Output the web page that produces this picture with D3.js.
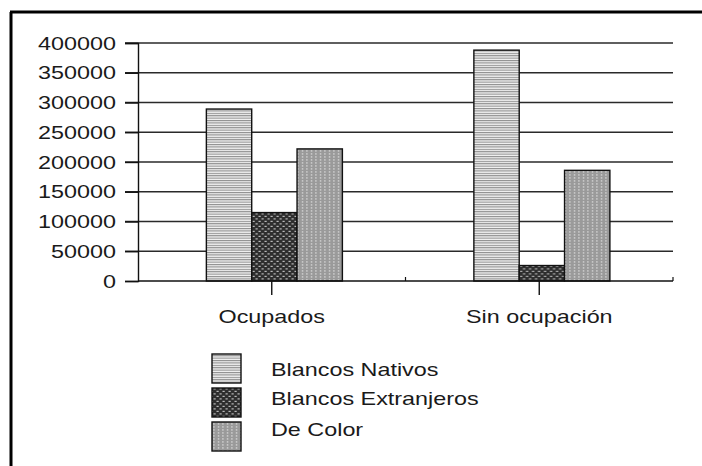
<!DOCTYPE html>
<html>
<head>
<meta charset="utf-8">
<script src="https://cdn.jsdelivr.net/npm/d3@7"></script>
<style>
  body { margin: 0; background: #fff; }
  text { font-family: "Liberation Sans", Arial, sans-serif; fill: #1a1a1a; }
</style>
</head>
<body>
<svg id="chart" width="702" height="466"></svg>
<script>
// données
var categories = ["Ocupados", "Sin ocupación"];
var series = ["Blancos Nativos", "Blancos Extranjeros", "De Color"];
var nativos = [289000, 388000];
var extranjeros = [115000, 26000];
var deColor = [222000, 186000];
var yTicks = [0, 50000, 100000, 150000, 200000, 250000, 300000, 350000, 400000];

var valeurs = [nativos, extranjeros, deColor];
var motifs = ["pat-nativos", "pat-extranjeros", "pat-color"];

var svg = d3.select("#chart");
var fontSize = 19, sx = 1.23; // texte étiré horizontalement comme sur l'original

// motifs de remplissage
var defs = svg.append("defs");
var p1 = defs.append("pattern").attr("id", "pat-nativos").attr("patternUnits", "userSpaceOnUse")
  .attr("width", 4).attr("height", 2.4);
p1.append("rect").attr("width", 4).attr("height", 2.4).attr("fill", "#f4f4f4");
p1.append("rect").attr("width", 4).attr("height", 1.1).attr("fill", "#8c8c8c");

var p2 = defs.append("pattern").attr("id", "pat-extranjeros").attr("patternUnits", "userSpaceOnUse")
  .attr("width", 6).attr("height", 5);
p2.append("rect").attr("width", 6).attr("height", 5).attr("fill", "#2e2e2e");
p2.append("rect").attr("x", 0.5).attr("y", 0.8).attr("width", 2.2).attr("height", 1.2).attr("fill", "#b8b8b8");
p2.append("rect").attr("x", 3.5).attr("y", 3.3).attr("width", 2.2).attr("height", 1.2).attr("fill", "#b8b8b8");

var p3 = defs.append("pattern").attr("id", "pat-color").attr("patternUnits", "userSpaceOnUse")
  .attr("width", 4.5).attr("height", 3);
p3.append("rect").attr("width", 4.5).attr("height", 3).attr("fill", "#9a9a9a");
p3.append("rect").attr("x", 2).attr("y", 0).attr("width", 1).attr("height", 1.8).attr("fill", "#dedede");

// cadre (haut et gauche)
svg.append("path").attr("d", "M10,12H702M11,12V466")
  .attr("stroke", "#000").attr("stroke-width", 3).attr("fill", "none");

// échelles
var y = d3.scaleLinear().domain([0, 400000]).range([281, 43]);
var x0 = d3.scaleBand().domain(categories).range([138, 673]).padding(0);
var x1 = d3.scaleBand().domain(series).range([0, x0.bandwidth()])
  .paddingInner(0).paddingOuter(1.45).align(0.52);

function texte(g, x, yy, str, anchor) {
  return g.append("text")
    .attr("transform", "translate(" + x + "," + yy + ") scale(" + sx + ",1)")
    .attr("text-anchor", anchor || "start")
    .style("font-size", fontSize + "px")
    .text(str);
}

// grille horizontale
svg.append("g").selectAll("line").data(yTicks.slice(1)).enter().append("line")
  .attr("x1", 125).attr("x2", 673)
  .attr("y1", function(d) { return y(d); }).attr("y2", function(d) { return y(d); })
  .attr("stroke", "#2a2a2a").attr("stroke-width", 1.4);

// barres
var groupes = svg.append("g").selectAll("g").data(categories).enter().append("g")
  .attr("transform", function(d) { return "translate(" + x0(d) + ",0)"; });
groupes.selectAll("rect")
  .data(function(c, i) { return series.map(function(s, j) { return { s: s, j: j, v: valeurs[j][i] }; }); })
  .enter().append("rect")
  .attr("x", function(d) { return x1(d.s); })
  .attr("width", x1.bandwidth())
  .attr("y", function(d) { return y(d.v); })
  .attr("height", function(d) { return y(0) - y(d.v); })
  .attr("fill", function(d) { return "url(#" + motifs[d.j] + ")"; })
  .attr("stroke", "#111").attr("stroke-width", 1.4);

// axe Y
var yAxis = svg.append("g").attr("transform", "translate(138,0)")
  .call(d3.axisLeft(y).tickValues(yTicks).tickSize(13).tickFormat(""));
yAxis.select(".domain").attr("stroke", "#111").attr("stroke-width", 1.4);
yAxis.selectAll(".tick line").attr("stroke", "#111").attr("stroke-width", 1.4);
var yLab = svg.append("g");
yTicks.forEach(function(t) {
  texte(yLab, 116, y(t), d3.format("d")(t), "end").attr("dy", "0.35em");
});

// axe X
svg.append("line").attr("x1", 138).attr("x2", 673).attr("y1", y(0)).attr("y2", y(0))
  .attr("stroke", "#111").attr("stroke-width", 1.4);
svg.append("g").selectAll("line").data(categories).enter().append("line")
  .attr("x1", function(d) { return x0(d) + x0.bandwidth() / 2; })
  .attr("x2", function(d) { return x0(d) + x0.bandwidth() / 2; })
  .attr("y1", y(0)).attr("y2", y(0) + 14)
  .attr("stroke", "#111").attr("stroke-width", 1.4);
svg.append("g").selectAll("line").data(categories).enter().append("line")
  .attr("x1", function(d) { return x0(d) + x0.bandwidth(); })
  .attr("x2", function(d) { return x0(d) + x0.bandwidth(); })
  .attr("y1", y(0) - 4).attr("y2", y(0))
  .attr("stroke", "#111").attr("stroke-width", 1.2);
var xLab = svg.append("g");
categories.forEach(function(c) {
  texte(xLab, x0(c) + x0.bandwidth() / 2, 323, c, "middle");
});

// légende
var leg = svg.append("g");
var legY = [354, 388, 422];
var legTxt = [376, 405, 436];
series.forEach(function(s, j) {
  leg.append("rect").attr("x", 212).attr("y", legY[j]).attr("width", 29).attr("height", 29)
    .attr("fill", "url(#" + motifs[j] + ")").attr("stroke", "#111").attr("stroke-width", 1.4);
  texte(leg, 271, legTxt[j], s);
});
</script>
</body>
</html>
